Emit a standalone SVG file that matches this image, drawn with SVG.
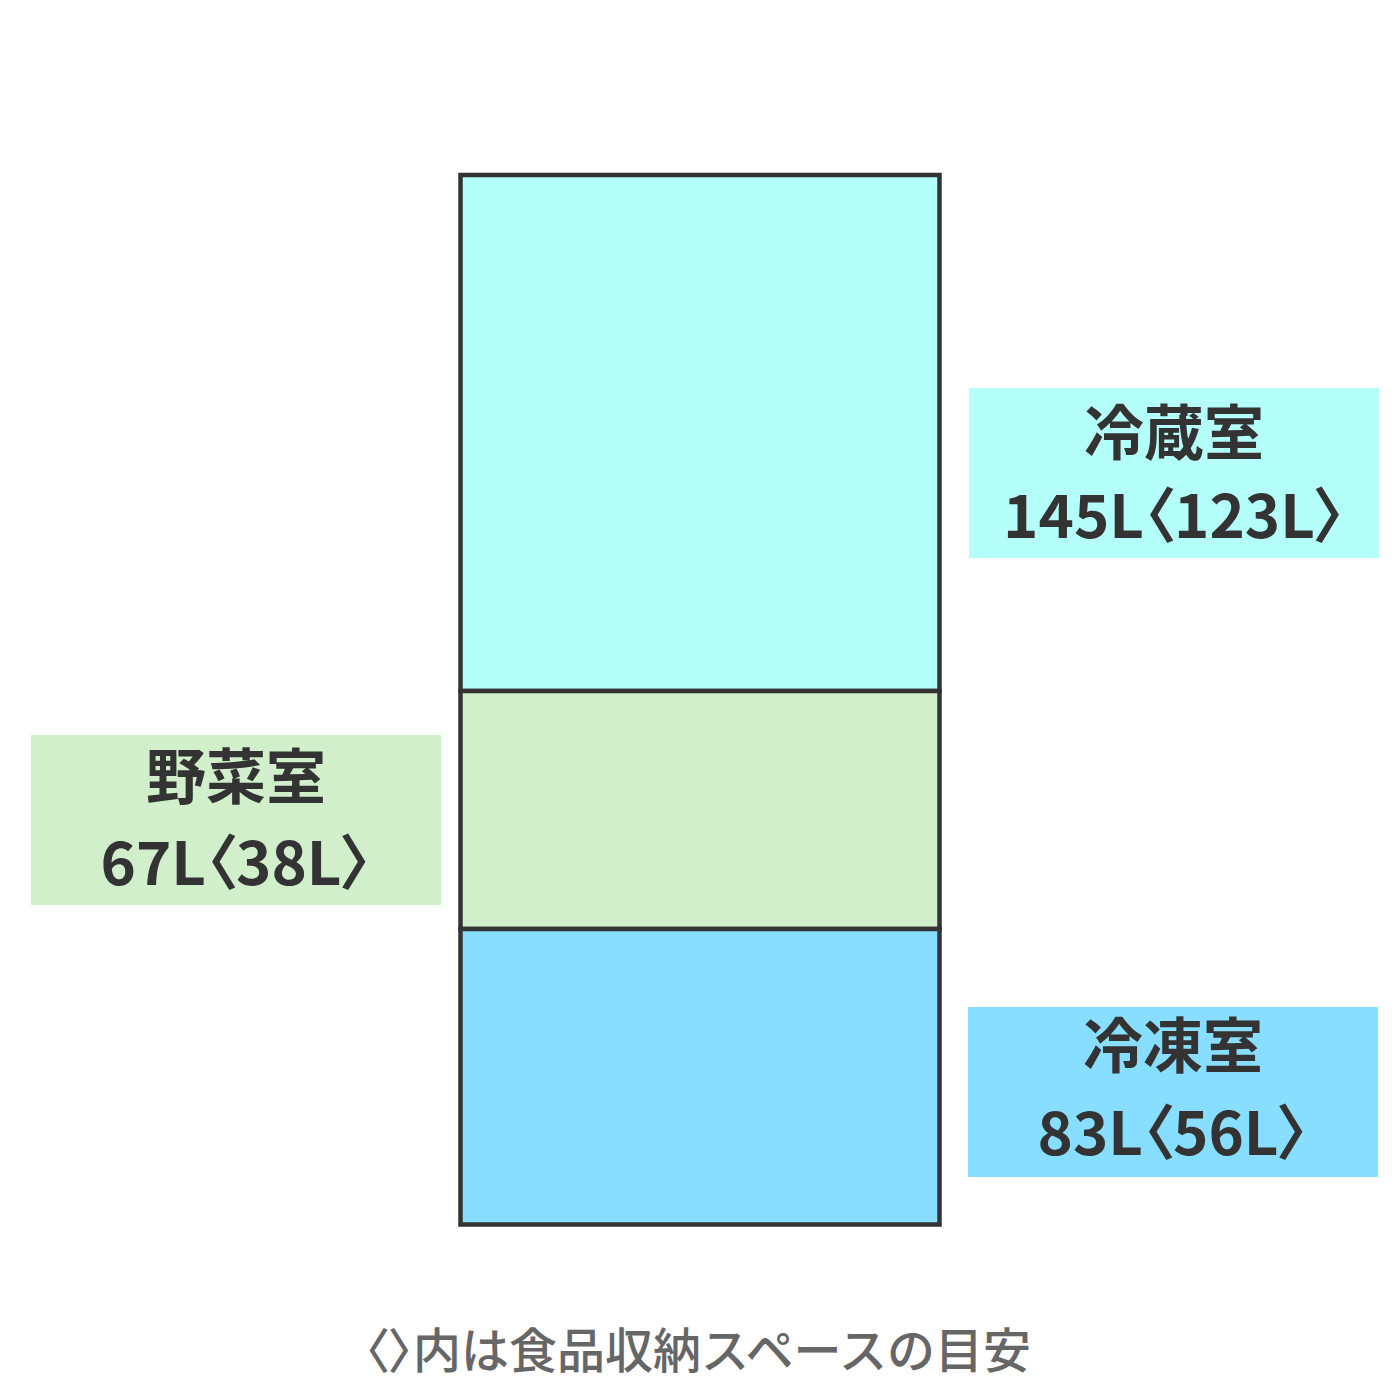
<svg xmlns="http://www.w3.org/2000/svg" width="1400" height="1400" viewBox="0 0 1400 1400">
<style>
.box{stroke:#333;stroke-width:4.5}
.lbl{font-family:"Noto Sans CJK JP","Noto Sans",sans-serif;font-weight:700;font-size:60px;fill:#333;text-anchor:middle}
.note{font-family:"Noto Sans CJK JP","Noto Sans",sans-serif;font-weight:500;font-size:48px;fill:#666;text-anchor:middle}
.p{font-feature-settings:"palt" 1}
.c1{fill:#b5fffb}.c2{fill:#d2efcc}.c3{fill:#87deff}
</style>
<rect width="1400" height="1400" fill="#fff"/>
<g id="fridge">
<rect class="box c1" x="460.5" y="175" width="479" height="516"/>
<rect class="box c2" x="460.5" y="691" width="479" height="238"/>
<rect class="box c3" x="460.5" y="929" width="479" height="295.5"/>
</g>
<g id="label-reizo">
<rect class="c1" x="969" y="388" width="410" height="170"/>
<text class="lbl" x="1174" y="455">冷蔵室</text>
<text class="lbl p" x="1174" y="538">145L〈123L〉</text>
</g>
<g id="label-yasai">
<rect class="c2" x="31" y="735" width="410" height="170"/>
<text class="lbl" x="236" y="799">野菜室</text>
<text class="lbl p" x="236" y="885">67L〈38L〉</text>
</g>
<g id="label-reito">
<rect class="c3" x="968" y="1007" width="410" height="170"/>
<text class="lbl" x="1173" y="1068">冷凍室</text>
<text class="lbl p" x="1173" y="1155">83L〈56L〉</text>
</g>
<g id="connectors"/>
<text class="note" x="698" y="1368"><tspan class="p">〈〉</tspan>内は食品収納スペースの目安</text>
</svg>
